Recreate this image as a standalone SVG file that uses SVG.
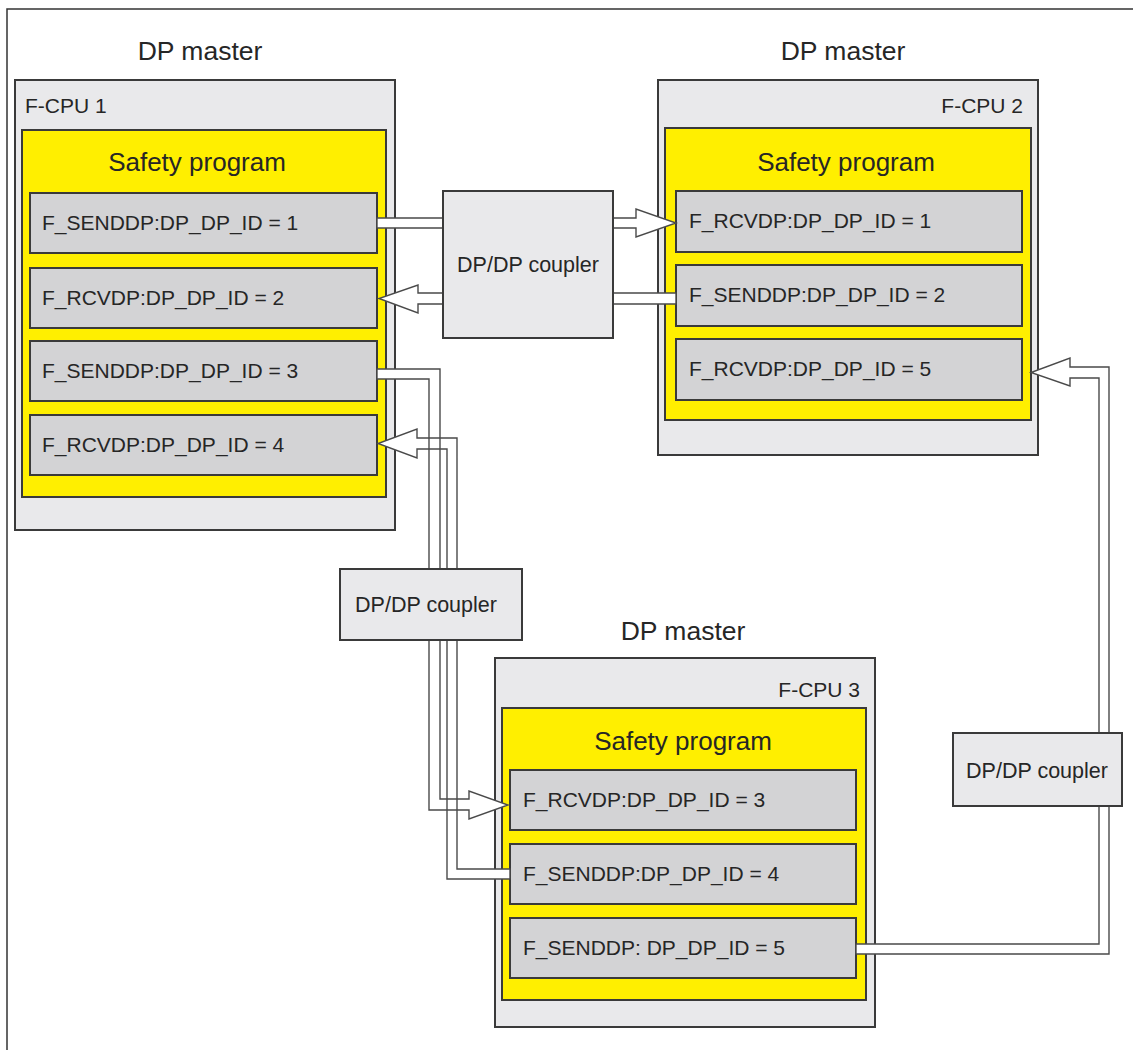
<svg xmlns="http://www.w3.org/2000/svg" width="1133" height="1050" viewBox="0 0 1133 1050">
<style>
text{font-family:"Liberation Sans",Arial,sans-serif;fill:#262626}
.cpu{fill:#e9e9eb;stroke:#3a3a3a;stroke-width:2}
.sp{fill:#ffef00;stroke:#3a3a3a;stroke-width:2}
.row{fill:#d3d3d5;stroke:#3a3a3a;stroke-width:2}
.cpl{fill:#e9e9eb;stroke:#3a3a3a;stroke-width:2}
.h{font-size:26.5px;text-anchor:middle}
.sph{font-size:26px;text-anchor:middle}
.t{font-size:21px}
.ct{font-size:21.5px;text-anchor:middle}
.pf{fill:#fff;stroke:none}
.ps{fill:none;stroke:#4a4a4a;stroke-width:1.4;stroke-linejoin:miter}
</style>
<rect x="0" y="0" width="1133" height="1050" fill="#fff"/>
<path d="M7,1050 V9 H1133" fill="none" stroke="#333" stroke-width="1.5"/>

<g id="cpu1">
<text class="h" x="200" y="60">DP master</text>
<rect class="cpu" x="15" y="80" width="380" height="450"/>
<text class="t" x="25" y="113">F-CPU 1</text>
<rect class="sp" x="22" y="130" width="364" height="367"/>
<text class="sph" x="197" y="171">Safety program</text>
<rect class="row" x="30" y="193" width="347" height="60"/>
<text class="t" x="42" y="230">F_SENDDP:DP_DP_ID = 1</text>
<rect class="row" x="30" y="268" width="347" height="60"/>
<text class="t" x="42" y="305">F_RCVDP:DP_DP_ID = 2</text>
<rect class="row" x="30" y="341" width="347" height="60"/>
<text class="t" x="42" y="378">F_SENDDP:DP_DP_ID = 3</text>
<rect class="row" x="30" y="415" width="347" height="60"/>
<text class="t" x="42" y="452">F_RCVDP:DP_DP_ID = 4</text>
</g>

<g id="cpu2">
<text class="h" x="843" y="60">DP master</text>
<rect class="cpu" x="658" y="80" width="380" height="375"/>
<text class="t" x="1023" y="113" text-anchor="end">F-CPU 2</text>
<rect class="sp" x="665" y="128" width="366" height="292"/>
<text class="sph" x="846" y="171">Safety program</text>
<rect class="row" x="676" y="191" width="346" height="61"/>
<text class="t" x="689" y="228">F_RCVDP:DP_DP_ID = 1</text>
<rect class="row" x="676" y="265" width="346" height="61"/>
<text class="t" x="689" y="302">F_SENDDP:DP_DP_ID = 2</text>
<rect class="row" x="676" y="339" width="346" height="61"/>
<text class="t" x="689" y="376">F_RCVDP:DP_DP_ID = 5</text>
</g>

<g id="cpu3">
<text class="h" x="683" y="640">DP master</text>
<rect class="cpu" x="495" y="658" width="380" height="369"/>
<text class="t" x="860" y="697" text-anchor="end">F-CPU 3</text>
<rect class="sp" x="502" y="708" width="364" height="292"/>
<text class="sph" x="683" y="750">Safety program</text>
<rect class="row" x="510" y="770" width="346" height="60"/>
<text class="t" x="523" y="807">F_RCVDP:DP_DP_ID = 3</text>
<rect class="row" x="510" y="844" width="346" height="60"/>
<text class="t" x="523" y="881">F_SENDDP:DP_DP_ID = 4</text>
<rect class="row" x="510" y="918" width="346" height="60"/>
<text class="t" x="523" y="955">F_SENDDP: DP_DP_ID = 5</text>
</g>

<g id="connectors">
<defs>
<path id="p1" d="M377,218 H443 V228 H377 Z"/>
<path id="p2" d="M613,218 H636 V209 L676,223 L636,237 V228 H613 Z"/>
<path id="p3" d="M443,293 H418 V285 L379,298.5 L418,313 V304 H443 Z"/>
<path id="p4" d="M613,293 H676 V304 H613 Z"/>
<path id="pa" d="M377,369 H440 V799 H469 V791 L508,805 L469,819 V810 H429 V379 H377 Z"/>
<path id="pb" d="M510,869 H457 V438 H417 V429 L378,443.5 L417,458 V449 H447 V879 H510 Z"/>
<path id="pc" d="M856,944 H1099 V378 H1070 V386 L1031,372.5 L1070,358 V367 H1109 V954 H856 Z"/>
</defs>
<use href="#p1" class="pf"/><use href="#p2" class="pf"/><use href="#p3" class="pf"/><use href="#p4" class="pf"/>
<use href="#pa" class="pf"/><use href="#pb" class="pf"/><use href="#pc" class="pf"/>
<use href="#p1" class="ps"/><use href="#p2" class="ps"/><use href="#p3" class="ps"/><use href="#p4" class="ps"/>
<use href="#pa" class="ps"/><use href="#pb" class="ps"/><use href="#pc" class="ps"/>
</g>

<g id="coupler1">
<rect class="cpl" x="443" y="191" width="170" height="147"/>
<text class="ct" x="528" y="272">DP/DP coupler</text>
</g>
<g id="coupler2">
<rect class="cpl" x="340" y="569" width="182" height="71"/>
<text class="ct" x="426" y="612">DP/DP coupler</text>
</g>
<g id="coupler3">
<rect class="cpl" x="953" y="733" width="169" height="73"/>
<text class="ct" x="1037" y="778">DP/DP coupler</text>
</g>
</svg>
